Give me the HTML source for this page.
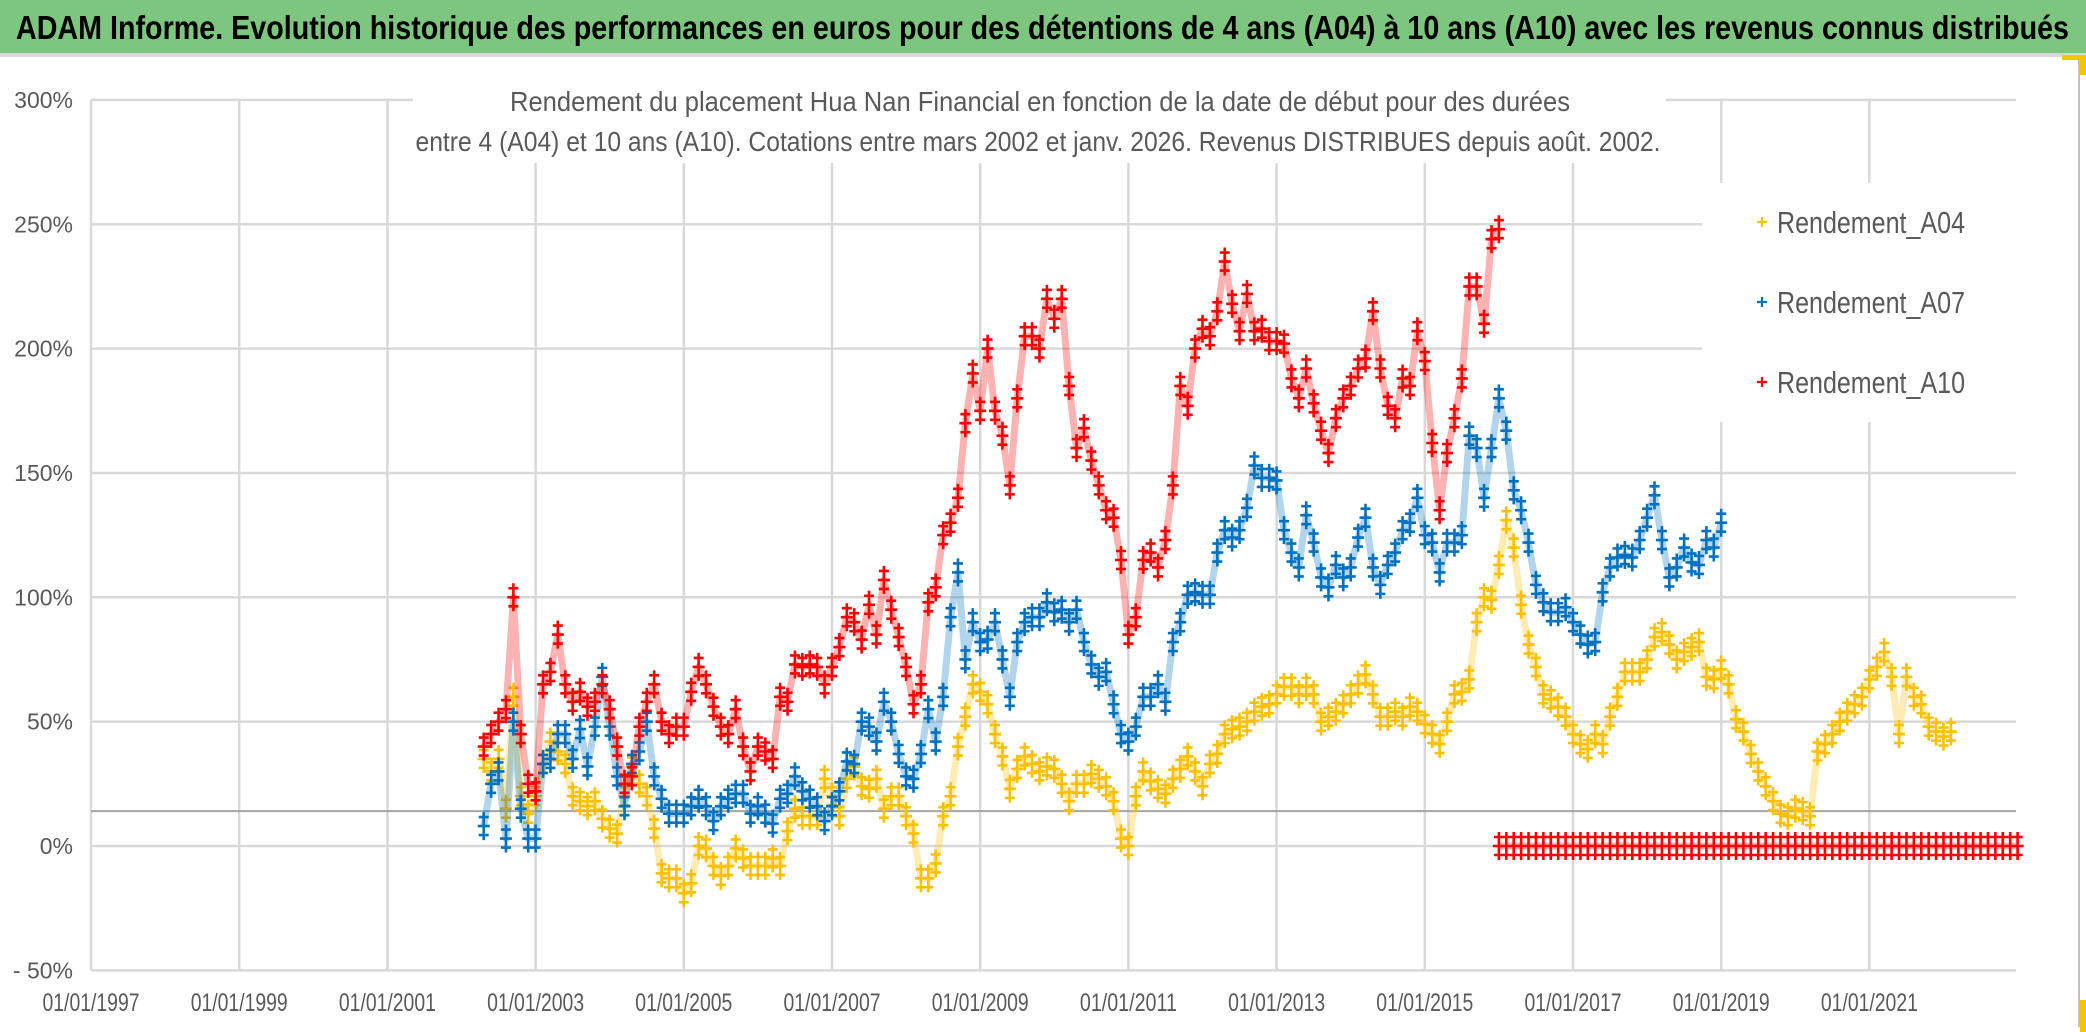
<!DOCTYPE html>
<html><head><meta charset="utf-8"><style>
html,body{margin:0;padding:0;background:#fff;}
svg{display:block;font-family:"Liberation Sans Narrow","Liberation Sans",sans-serif;}
</style></head><body>
<svg id="chart" width="2086" height="1032" viewBox="0 0 2086 1032">
  <rect x="0" y="0" width="2086" height="1032" fill="#ffffff"/>
  <rect x="0" y="0" width="2086" height="53" fill="#7dc67f"/>
  <rect x="0" y="53" width="2086" height="4" fill="#d9d9d9"/>
  <text x="16" y="39" font-size="33" font-weight="bold" fill="#000" textLength="2053" lengthAdjust="spacingAndGlyphs">ADAM Informe. Evolution historique des performances en euros pour des détentions de 4 ans (A04) à 10 ans (A10) avec les revenus connus distribués</text>
  <rect x="2078" y="57" width="2" height="970" fill="#bfbfbf"/>
  <rect x="2062" y="55" width="24" height="5" fill="#f5c400"/>
  <rect x="2080" y="55" width="6" height="20" fill="#f5c400"/>
  <rect x="2080" y="1000" width="6" height="32" fill="#f5c400"/>
  <g id="grid"></g>
  <g id="marks"></g>
  <g id="overlays"></g>
</svg>
<script>
// ---- data ----
const yTicks = [300, 250, 200, 150, 100, 50, 0, -50];
const yTickLabels = ["300%", "250%", "200%", "150%", "100%", "50%", "0%", "- 50%"];
const xTickYears = [1997, 1999, 2001, 2003, 2005, 2007, 2009, 2011, 2013, 2015, 2017, 2019, 2021];
const xTickLabels = ["01/01/1997","01/01/1999","01/01/2001","01/01/2003","01/01/2005","01/01/2007","01/01/2009","01/01/2011","01/01/2013","01/01/2015","01/01/2017","01/01/2019","01/01/2021"];
const refLineValue = 14;
const seriesStart = 2002.3;
const seriesStep = 0.1;
const a04Values = [35,30,35,15,60,20,13,
20,33,42,38,33,20,18,16,18,11,
7,5,20,32,25,20,7,-11,-13,-13,
-19,-15,0,-1,-8,-12,-8,-1,-5,-8,
-8,-8,-5,-8,6,15,12,12,12,27,
20,12,27,32,24,23,27,15,20,20,
12,5,-13,-13,-7,12,20,40,52,65,
62,57,45,36,23,31,36,33,30,32,
31,25,18,25,25,29,27,24,18,3,
0,20,30,26,23,21,27,31,36,30,
24,33,37,45,47,48,50,54,56,57,
61,64,64,61,64,61,50,52,54,57,
61,65,69,61,52,52,54,52,56,54,
49,45,41,50,61,62,67,90,100,99,
113,131,120,97,81,72,61,59,56,52,
45,41,39,45,41,52,60,70,70,70,
75,84,86,81,75,78,80,82,68,67,
71,65,51,46,37,30,24,18,13,12,
15,14,12,38,41,45,50,54,57,60,
67,72,78,68,45,68,60,57,48,46,
44,46];
const a07Values = [8,25,30,3,50,15,3,
3,33,35,45,45,35,47,32,48,68,
48,28,16,33,38,50,28,19,13,13,
13,16,19,16,10,16,19,21,21,13,
16,13,9,19,21,28,22,19,16,10,
16,22,34,33,50,48,42,58,50,37,
28,27,37,55,42,60,92,110,75,90,
82,83,90,75,60,82,90,92,92,98,
94,95,90,95,82,73,68,70,57,45,
42,48,60,60,65,58,82,90,101,102,
101,101,118,127,124,127,136,153,148,148,
147,127,118,112,133,122,108,104,113,108,
112,124,132,112,105,113,118,127,130,140,
125,122,110,122,122,125,165,160,140,160,
180,167,143,135,122,105,98,94,94,96,
90,85,81,82,102,112,116,117,116,123,
132,141,123,108,112,120,114,113,123,120,
130];
const a10Values = [40,45,50,55,100,45,25,
22,65,70,85,65,58,62,56,58,65,
55,40,25,28,48,58,65,50,45,48,
48,62,72,65,56,48,45,55,40,30,
40,38,35,60,58,73,72,73,72,65,
72,80,92,90,83,97,85,107,95,84,
72,57,65,98,104,125,130,140,170,190,
175,200,175,165,145,180,205,205,200,220,
212,220,185,160,168,155,145,135,132,115,
85,92,115,118,112,123,145,185,177,200,
208,205,215,235,218,207,222,207,208,203,
203,202,188,180,192,178,167,158,172,180,
185,192,196,215,192,177,172,188,185,207,
195,162,135,158,172,188,225,225,210,244,248];
const a10ZeroStart = 2016.0;
const a10ZeroValues = [0,0,0,0,0,0,0,0,0,0,0,0,0,0,0,0,0,0,0,0,0,0,0,0,0,0,0,0,0,0,0,0,0,0,0,0,0,0,0,0,0,0,0,0,0,0,0,0,0,0,0,0,0,0,0,0,0,0,0,0,0,0,0,0,0,0,0,0,0,0,0];
const seriesNames = ["Rendement_A04", "Rendement_A07", "Rendement_A10"];

// ---- scales ----
const X0 = 91, YEAR0 = 1997, PX_PER_YEAR = 74.1, PLOT_RIGHT = 2016;
const Y_ZERO = 846, PX_PER_PCT = 2.487;
function xs(year){ return X0 + (year - YEAR0) * PX_PER_YEAR; }
function ys(pct){ return Y_ZERO - pct * PX_PER_PCT; }
const NS = "http://www.w3.org/2000/svg";
function mk(tag, attrs, parent){
  const e = document.createElementNS(NS, tag);
  for (const k in attrs) e.setAttribute(k, attrs[k]);
  parent.appendChild(e);
  return e;
}
const grid = document.getElementById('grid');
const marks = document.getElementById('marks');
const over = document.getElementById('overlays');

yTicks.forEach((v, i) => {
  const l = mk('line', {x1: X0, x2: PLOT_RIGHT, y1: ys(v), y2: ys(v), stroke: '#d9d9d9', 'stroke-width': 2.5}, grid);
  
  
  const t = mk('text', {x: 73, y: ys(v) + 8, 'text-anchor': 'end', 'font-size': 23, fill: '#595959'}, grid);
  t.textContent = yTickLabels[i];
  
  
});
xTickYears.forEach((yr, i) => {
  const l = mk('line', {x1: xs(yr), x2: xs(yr), y1: ys(300), y2: ys(-50), stroke: '#d9d9d9', 'stroke-width': 2.5}, grid);
  
  
  const t = mk('text', {x: xs(yr), y: 1011, 'text-anchor': 'middle', 'font-size': 25, fill: '#595959', textLength: 97, lengthAdjust: 'spacingAndGlyphs'}, grid);
  t.textContent = xTickLabels[i];
  
  
});
const ref = mk('line', {x1: X0, x2: PLOT_RIGHT, y1: ys(refLineValue), y2: ys(refLineValue), stroke: '#a6a6a6', 'stroke-width': 2}, grid);



const tb = mk('rect', {x: 413, y: 60, width: 1253, height: 103, fill: '#fff'}, grid);


const lb = mk('rect', {x: 1702, y: 183, width: 320, height: 239, fill: '#fff'}, grid);



function crossPath(x, y, s){ return `M${x-s},${y}H${x+s}M${x},${y-s}V${y+s}`; }
function drawSeries(values, start, color, name){
  const g = mk('g', {}, marks);
  
  
  let band = '';
  let d = '';
  values.forEach((v, i) => {
    const x = xs(start + i * seriesStep), y = ys(v);
    band += (i ? 'L' : 'M') + x.toFixed(1) + ',' + y.toFixed(1);
    d += crossPath(x, y, 6) + crossPath(x, y - 9, 5) + crossPath(x, y + 9, 5);
  });
  const b = mk('path', {d: band, fill: 'none', stroke: color, 'stroke-width': 7, 'stroke-opacity': 0.3, 'stroke-linejoin': 'round'}, g);
  
  
  const p = mk('path', {d: d, fill: 'none', stroke: color, 'stroke-width': 2.6}, g);
  
  
}
drawSeries(a04Values, seriesStart, '#ffc000', 'series-a04');
drawSeries(a07Values, seriesStart, '#0070c0', 'series-a07');
drawSeries(a10Values, seriesStart, '#ff0000', 'series-a10');
drawSeries(a10ZeroValues, a10ZeroStart, '#ff0000', 'series-a10-zero');

const t1 = mk('text', {x: 1040, y: 111, 'text-anchor': 'middle', 'font-size': 28, fill: '#595959', textLength: 1060, lengthAdjust: 'spacingAndGlyphs'}, over);
t1.textContent = 'Rendement du placement Hua Nan Financial  en fonction de la date de début pour des durées';


const t2 = mk('text', {x: 1038, y: 151, 'text-anchor': 'middle', 'font-size': 28, fill: '#595959', textLength: 1245, lengthAdjust: 'spacingAndGlyphs'}, over);
t2.textContent = 'entre 4 (A04) et 10 ans (A10). Cotations entre mars 2002 et janv. 2026. Revenus DISTRIBUES depuis août. 2002.';



const legendColors = ['#ffc000', '#0070c0', '#ff0000'];
seriesNames.forEach((n, i) => {
  const cy = 222 + i * 80;
  const g = mk('g', {}, over);
  
  
  const m = mk('path', {d: crossPath(1762, cy, 5), stroke: legendColors[i], 'stroke-width': 2.2, fill: 'none'}, g);
  
  
  const t = mk('text', {x: 1777, y: cy + 11, 'font-size': 31, fill: '#595959', textLength: 188, lengthAdjust: 'spacingAndGlyphs'}, g);
  t.textContent = n;
  
  
});
</script>
</body></html>
